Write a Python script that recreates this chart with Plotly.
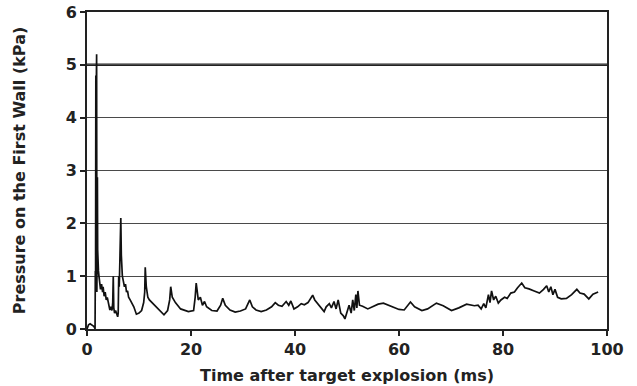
import plotly.graph_objects as go

time_ms = [0, 0.3, 0.6, 1.0, 1.3, 1.5, 1.55, 1.6, 1.65, 1.7, 1.75, 1.8, 1.85, 1.9, 1.95, 2.0, 2.05, 2.1, 2.15, 2.2,
           2.3, 2.45, 2.6, 2.8, 3.0, 3.1, 3.3, 3.5, 3.7, 3.9, 4.0, 4.2, 4.4, 4.6, 4.8, 4.95, 5.05, 5.15, 5.3, 5.5,
           5.7, 5.9, 6.0, 6.1, 6.2, 6.3, 6.4, 6.5, 6.6, 6.7, 6.8, 7.0, 7.2, 7.4, 7.6, 7.8, 8.0, 8.3, 8.6, 9.0,
           9.5, 10.0, 10.5, 10.9, 11.1, 11.2, 11.4, 11.7, 12.0, 13.0, 14.0, 14.8, 15.5, 15.9, 16.1, 16.4, 17.0, 18.0, 19.5, 20.5,
           20.8, 21.0, 21.4, 21.8, 22.2, 22.6, 23.0, 24.0, 25.0, 25.7, 26.1, 26.6, 27.5, 28.5, 29.5, 30.5, 31.3, 31.8, 32.5, 33.5,
           34.5, 35.5, 36.2, 36.8, 37.5, 38.3, 38.8, 39.2, 39.8, 40.5, 41.2, 41.8, 42.5, 43.4, 43.8, 44.2, 45.0, 45.6, 46.0, 46.6,
           47.0, 47.5, 47.9, 48.3, 48.8, 49.3, 49.6, 50.0, 50.4, 50.8, 51.1, 51.4, 51.7, 51.9, 52.1, 52.4, 53.0, 54.0, 55.0, 56.0,
           57.0, 58.0, 59.0, 60.0, 61.0, 62.2, 63.0, 64.4, 65.5, 67.2, 68.5, 70.1, 71.5, 73.0, 74.5, 75.2, 75.8, 76.3, 76.7, 77.2,
           77.5, 77.8, 78.2, 78.6, 79.1, 79.6, 80.3, 80.8, 81.5, 82.2, 82.8, 83.6, 84.2, 85.0, 86.0, 87.0, 87.8, 88.4, 88.8, 89.2,
           89.6, 90.0, 90.5, 91.2, 92.2, 93.2, 94.2, 94.8, 95.6, 96.5, 97.3, 98.3]
pressure_kpa = [0.0, 0.08, 0.1, 0.08, 0.05, 0.02, 0.0, 1.1, 0.8, 4.8, 5.0, 4.7, 5.2, 0.7, 1.2, 2.87, 1.5, 1.2, 1.5, 1.1,
                1.0, 0.9, 0.75, 0.85, 0.7, 0.8, 0.62, 0.7, 0.55, 0.6, 0.55, 0.45, 0.36, 0.42, 0.35, 0.5, 1.0, 0.4, 0.3, 0.35,
                0.28, 0.23, 0.3, 1.0, 0.8, 1.2, 1.6, 2.1, 1.4, 1.1, 1.0, 0.9, 0.8, 0.85, 0.7, 0.72, 0.6, 0.55, 0.5, 0.42,
                0.28, 0.3, 0.35, 0.5, 0.7, 1.17, 0.8, 0.6, 0.55, 0.45, 0.35, 0.27, 0.35, 0.55, 0.8, 0.6, 0.5, 0.38, 0.33, 0.35,
                0.6, 0.87, 0.55, 0.6, 0.45, 0.52, 0.42, 0.35, 0.34, 0.45, 0.58, 0.45, 0.36, 0.32, 0.34, 0.38, 0.55, 0.42, 0.36, 0.33,
                0.36, 0.42, 0.5, 0.45, 0.43, 0.52, 0.45, 0.53, 0.38, 0.42, 0.48, 0.46, 0.5, 0.64, 0.55, 0.5, 0.4, 0.33, 0.42, 0.48,
                0.4, 0.52, 0.38, 0.55, 0.3, 0.25, 0.19, 0.3, 0.45, 0.3, 0.55, 0.35, 0.65, 0.4, 0.72, 0.45, 0.43, 0.38, 0.42, 0.47,
                0.49, 0.45, 0.42, 0.37, 0.36, 0.51, 0.42, 0.35, 0.38, 0.49, 0.44, 0.35, 0.4, 0.47, 0.44, 0.45, 0.38, 0.48, 0.4, 0.65,
                0.5, 0.72, 0.55, 0.62, 0.49, 0.55, 0.6, 0.58, 0.68, 0.7, 0.78, 0.87, 0.78, 0.76, 0.72, 0.68, 0.75, 0.82, 0.7, 0.8,
                0.65, 0.75, 0.6, 0.57, 0.58, 0.65, 0.75, 0.68, 0.66, 0.57, 0.66, 0.7]

x_ticks = [0, 20, 40, 60, 80, 100]
y_ticks = [0, 1, 2, 3, 4, 5, 6]

fig = go.Figure()
fig.add_trace(go.Scatter(x=time_ms, y=pressure_kpa, mode="lines",
                         line=dict(color="#111111", width=1.7), showlegend=False))

fig.add_shape(type="line", xref="x", yref="y", x0=0, x1=100, y0=5, y1=5,
              line=dict(color="#222222", width=2.5), layer="below")

font = dict(family="DejaVu Sans, Verdana, sans-serif", size=15, color="#222222")
fig.update_layout(
    width=637, height=386,
    margin=dict(l=87, r=30, t=12, b=57, autoexpand=False),
    paper_bgcolor="white", plot_bgcolor="white",
    font=font,
    xaxis=dict(range=[0, 100], tickvals=x_ticks, ticktext=[f"<b>{v}</b>" for v in x_ticks],
               automargin=False,
               showgrid=False, zeroline=False, showline=True, linecolor="#222222", linewidth=2,
               mirror=True, ticks="outside", ticklen=5, tickwidth=2, tickcolor="#222222",
               tickfont=dict(size=16),
               title=dict(text="<b>Time after target explosion (ms)</b>", font=dict(size=16), standoff=12)),
    yaxis=dict(range=[0, 6], tickvals=y_ticks, ticktext=[f"<b>{v}</b>" for v in y_ticks],
               automargin=False,
               showgrid=True, gridcolor="#4a4a4a", gridwidth=1, zeroline=False,
               showline=True, linecolor="#222222", linewidth=2, mirror=True,
               ticks="outside", ticklen=5, tickwidth=2, tickcolor="#222222",
               tickfont=dict(size=16),
               title=dict(text="<b>Pressure on the First Wall (kPa)</b>", font=dict(size=16), standoff=36)),
)

fig.write_html("out.html")
